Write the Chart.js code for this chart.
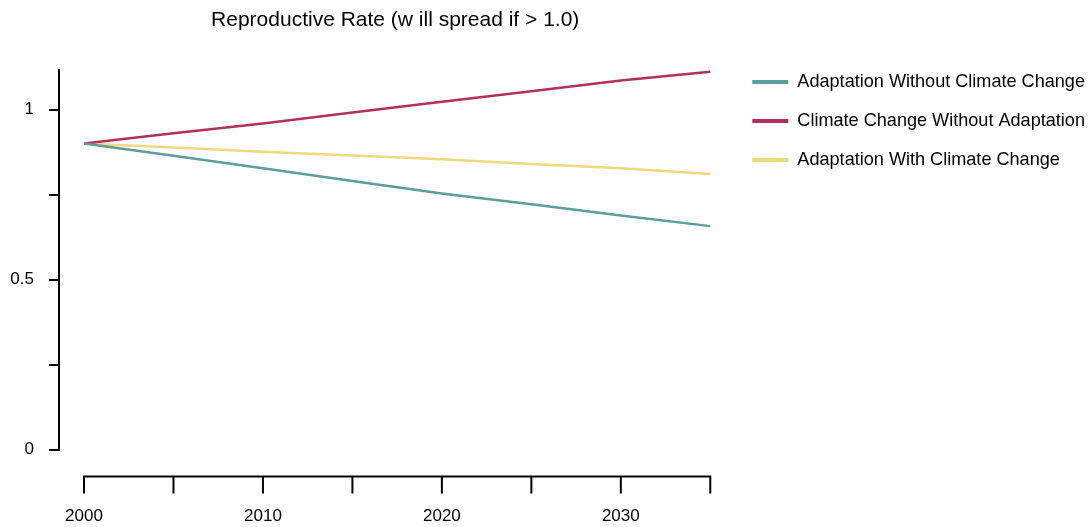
<!DOCTYPE html>
<html><head><meta charset="utf-8">
<script src="https://cdn.jsdelivr.net/npm/chart.js@4/dist/chart.umd.min.js"></script>
<style>html,body{margin:0;padding:0;background:#fff;overflow:hidden}#wrap{width:1091px;height:527px;position:relative}</style>
</head><body><div id="wrap"><canvas id="c" width="1091" height="527"></canvas></div>
<script>
const years = [2000, 2005, 2010, 2015, 2020, 2025, 2030, 2035];
const adaptationWithoutClimate = [0.900, 0.864, 0.827, 0.790, 0.753, 0.721, 0.688, 0.657];
const climateWithoutAdaptation = [0.900, 0.930, 0.959, 0.991, 1.023, 1.054, 1.085, 1.111];
const adaptationWithClimate = [0.900, 0.888, 0.876, 0.865, 0.854, 0.840, 0.827, 0.810];
const seriesNames = ['Adaptation Without Climate Change', 'Climate Change Without Adaptation', 'Adaptation With Climate Change'];
const seriesColors = ['#5b9e9d', '#b3305e', '#efd97c'];
const xLabeledTicks = [2000, 2010, 2020, 2030];
const yLabeledTicks = [0, 0.5, 1];
const titleText = 'Reproductive Rate (w ill spread if > 1.0)';

const FONT = 'Liberation Sans, Arial, sans-serif';
const toPoints = arr => years.map((yr, i) => ({x: yr, y: arr[i]}));
const allSeries = [adaptationWithoutClimate, climateWithoutAdaptation, adaptationWithClimate];

const detachedXAxis = {
  id: 'detachedXAxis',
  afterDraw(chart) {
    const xs = chart.scales.x;
    const ctx = chart.ctx;
    const y0 = chart.chartArea.bottom + 27;
    ctx.save();
    ctx.strokeStyle = '#000';
    ctx.lineWidth = 2;
    ctx.beginPath();
    ctx.moveTo(xs.getPixelForValue(years[0]) - 1, y0);
    ctx.lineTo(xs.getPixelForValue(years[years.length - 1]) + 1, y0);
    xs.ticks.forEach(t => {
      const px = xs.getPixelForValue(t.value);
      ctx.moveTo(px, y0);
      ctx.lineTo(px, y0 + 17);
    });
    ctx.stroke();
    ctx.restore();
  }
};

new Chart(document.getElementById('c'), {
  type: 'line',
  data: {
    datasets: allSeries.map((arr, i) => ({
      label: seriesNames[i],
      data: toPoints(arr),
      borderColor: seriesColors[i],
      backgroundColor: seriesColors[i],
      borderWidth: 2.5,
      pointRadius: 0,
      tension: 0,
      fill: false,
      clip: false
    }))
  },
  options: {
    responsive: false,
    animation: false,
    devicePixelRatio: 1,
    layout: {padding: {left: 10, right: -4, top: 0, bottom: 0}},
    scales: {
      x: {
        type: 'linear',
        min: 1998.602,
        max: 2036.18,
        grid: {display: false, drawTicks: false, tickLength: 0},
        border: {display: false},
        afterFit: s => { s.height = 77.5; },
        ticks: {
          stepSize: 5,
          includeBounds: false,
          autoSkip: false,
          maxRotation: 0,
          padding: 57,
          color: '#000',
          font: {family: FONT, size: 17},
          callback: v => xLabeledTicks.includes(v) ? String(v) : ''
        }
      },
      y: {
        min: 0,
        max: 1.115,
        grid: {display: true, drawOnChartArea: false, drawTicks: true, tickLength: 10, color: '#000', lineWidth: 2},
        border: {display: true, color: '#000', width: 2},
        afterFit: s => { s.width = 49; },
        ticks: {
          stepSize: 0.25,
          includeBounds: false,
          padding: 15,
          color: '#000',
          font: {family: FONT, size: 17},
          callback: v => yLabeledTicks.some(t => Math.abs(t - v) < 1e-9) ? String(v) : ''
        }
      }
    },
    plugins: {
      title: {
        display: true,
        text: titleText,
        fullSize: false,
        color: '#000',
        font: {family: FONT, size: 21, weight: 'normal'},
        padding: {top: 7.5, bottom: 37.7}
      },
      legend: {
        display: true,
        position: 'right',
        align: 'start',
        maxWidth: 420,
        title: {display: true, text: '', font: {size: 10, lineHeight: 1}, padding: {top: 42.05, bottom: 0}},
        labels: {
          boxWidth: 36,
          boxHeight: 4,
          padding: 20.9,
          color: '#000',
          font: {family: FONT, size: 18.1},
          generateLabels: chart => Chart.defaults.plugins.legend.labels.generateLabels(chart).map(l => Object.assign(l, {lineWidth: 0}))
        }
      },
      tooltip: {enabled: false}
    }
  },
  plugins: [detachedXAxis]
});
</script></body></html>
